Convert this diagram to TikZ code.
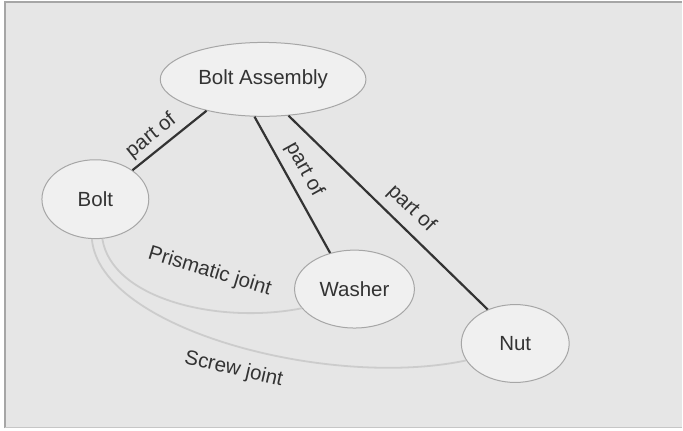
\documentclass[tikz,border=0pt]{standalone}
\usepackage{fontspec}
\setmainfont{Liberation Sans}
\usepackage{tikz}
\usetikzlibrary{shapes.geometric}
\usepackage{xcolor}

\definecolor{bggray}{HTML}{E6E6E6}
\definecolor{nodefill}{HTML}{F0F0F0}
\definecolor{inkgray}{HTML}{333333}

\begin{document}
\begin{tikzpicture}[x=1pt, y=-1pt,
    txt/.style={font=\fontsize{20.5}{24}\selectfont, text=inkgray},
    part/.style={txt, ellipse, draw=gray!70, line width=1pt, fill=nodefill, inner sep=0pt},
    partof/.style={draw=inkgray, line width=2.2pt},
    joint/.style={draw=gray!40, line width=1.8pt}]

        % Fundo
        \fill[white] (0,0) rectangle (683,431);
        \fill[bggray] (4,1) rectangle (683,429);
        \draw[gray!70, line width=2pt] (5,429) -- (5,2) -- (683,2);
        \draw[gray!45, line width=1.5pt] (5,428) -- (683,428);
        \useasboundingbox (0,0) rectangle (683,431);

        % Pecas
        \node[part, minimum width=206pt, minimum height=74pt] (assembly) at (263.5,79.5) {Bolt Assembly};
        \node[part, minimum width=107pt, minimum height=79pt] (bolt) at (95.5,199.5) {Bolt};
        \node[part, minimum width=120pt, minimum height=78pt] (washer) at (355,289.5) {Washer};
        \node[part, minimum width=108pt, minimum height=78pt] (nut) at (516,344) {Nut};

        % Ligacoes "part of"
        \draw[partof] (assembly.209) -- node[txt, sloped, above=1pt, pos=0.62] {part of} (bolt.38);
        \draw[partof] (assembly.257) -- node[txt, sloped, above=4pt, pos=0.45] {part of} (washer.124);
        \draw[partof] (assembly.305) -- node[txt, sloped, above=5pt, pos=0.55] {part of} (nut.129);

        % Juntas
        \draw[joint] (bolt.280) .. controls (112,300) and (220,325) .. (washer.200);
        \draw[joint] (bolt.265) .. controls (100,330) and (330,390) .. (nut.199);
        \node[txt, rotate=-17] (prismatic) at (210,272) {Prismatic joint};
        \node[txt, rotate=-13] (screw) at (234,370) {Screw joint};
    \end{tikzpicture}
\end{document}
